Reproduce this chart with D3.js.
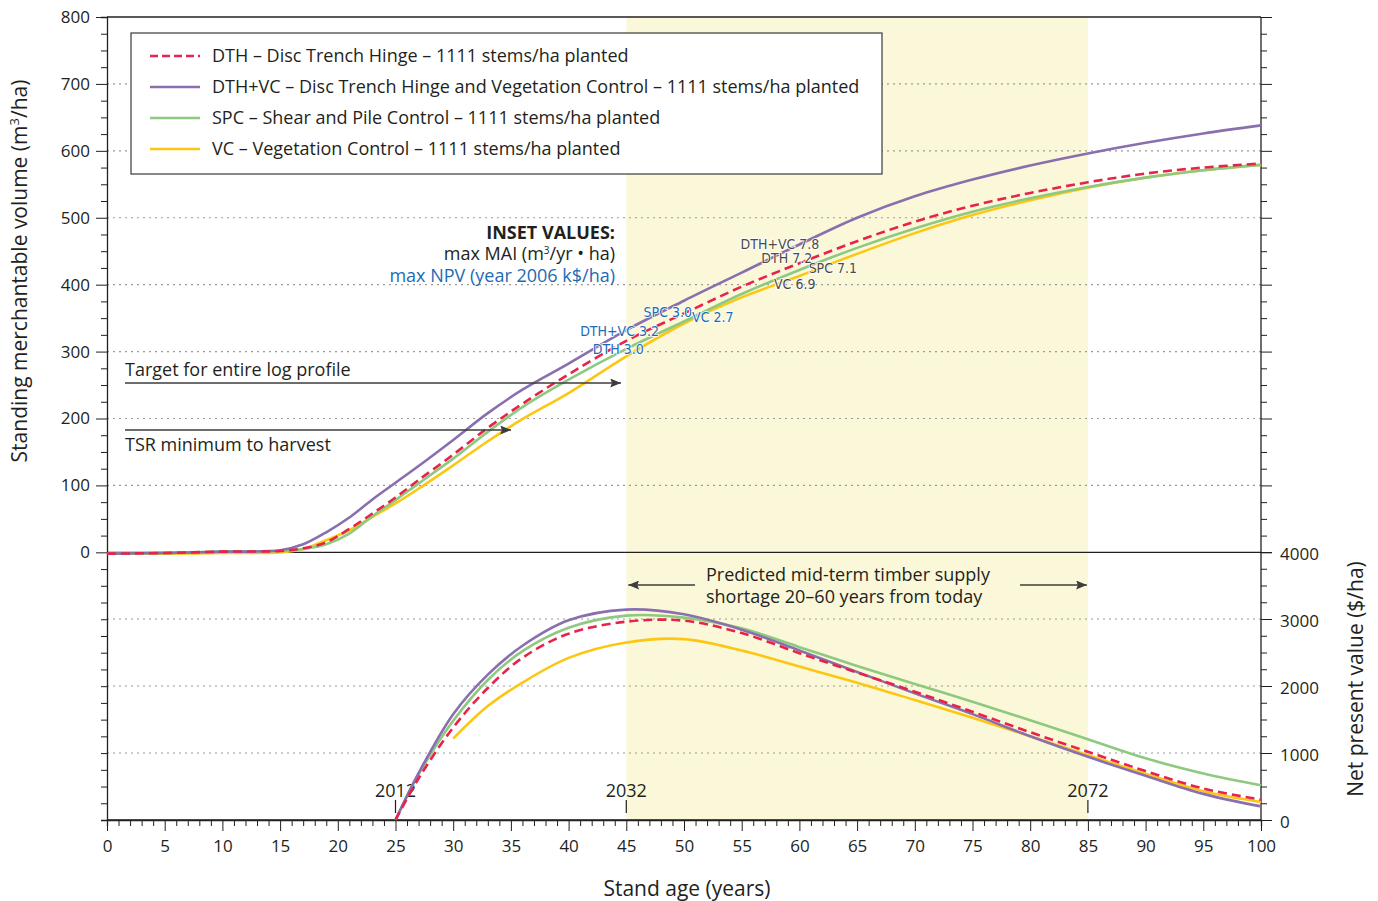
<!DOCTYPE html>
<meta charset="utf-8">
<style>
  body { margin: 0; padding: 0; background: #fff; }
  svg text { font-family: "Open Sans", "Noto Sans", sans-serif; fill: #231f20; }
  .grid { stroke: #9a9a9a; stroke-width: 1.2; stroke-dasharray: 2 4; }
  .axis path, .axis line { stroke: #231f20; }
  .inset { font-family: "Liberation Sans Narrow", "DejaVu Sans Condensed", sans-serif; font-size: 14px; }
</style>
<body>
<script src="https://cdn.jsdelivr.net/npm/d3@7"></script>
<script>

// stand age (years) for the volume curves
var volAges = [0, 5, 10, 15, 17, 19, 21, 23, 25, 27, 30, 33, 36, 40, 45, 50, 55, 60, 65, 70, 75, 80, 85, 90, 95, 100];
// standing merchantable volume (m3/ha)
var volDTH   = [-2, -1, 1, 2, 6, 15, 35, 58, 82, 108, 146, 186, 222, 266, 316, 357, 397, 432, 465, 494, 518, 537, 553, 566, 575, 581];
var volDTHVC = [-2, -1, 1, 3, 12, 30, 52, 79, 104, 129, 168, 208, 243, 282, 332, 376, 418, 460, 500, 532, 557, 578, 596, 612, 626, 638];
var volSPC   = [-2, -1, 1, 2, 5, 12, 28, 54, 78, 103, 140, 180, 217, 258, 304, 345, 386, 422, 455, 484, 509, 529, 546, 560, 571, 579];
var volVC    = [-2, -2, -1, 0, 5, 18, 33, 53, 73, 95, 130, 166, 199, 238, 293, 342, 381, 413, 446, 477, 504, 526, 545, 560, 571, 579];

// net present value ($/ha)
var npvAges  = [25, 27, 30, 33, 36, 40, 45, 50, 55, 60, 65, 70, 75, 80, 85, 90, 95, 100];
var npvDTH   = [0, 620, 1380, 1970, 2420, 2780, 2960, 2975, 2790, 2490, 2200, 1915, 1615, 1310, 1018, 730, 470, 303];
var npvDTHVC = [0, 700, 1580, 2170, 2600, 2980, 3140, 3070, 2840, 2530, 2210, 1890, 1580, 1250, 943, 660, 390, 203];
var npvSPC   = [0, 680, 1480, 2090, 2520, 2870, 3050, 3020, 2860, 2580, 2300, 2030, 1765, 1490, 1205, 920, 695, 518];
var npvVCAges = [30, 33, 36, 40, 45, 50, 55, 60, 65, 70, 75, 80, 85, 90, 95, 100];
var npvVC    = [1215, 1700, 2050, 2420, 2650, 2700, 2530, 2290, 2050, 1790, 1525, 1250, 968, 690, 430, 268];

var series = [
  {key: "DTH", label: "DTH \u2013 Disc Trench Hinge \u2013 1111 stems/ha planted", color: "#e8234a", dash: "9 5", vol: volDTH, npv: npvDTH, npvAges: npvAges},
  {key: "DTHVC", label: "DTH+VC \u2013 Disc Trench Hinge and Vegetation Control \u2013 1111 stems/ha planted", color: "#8a6fae", dash: null, vol: volDTHVC, npv: npvDTHVC, npvAges: npvAges},
  {key: "SPC", label: "SPC \u2013 Shear and Pile Control \u2013 1111 stems/ha planted", color: "#8dc97f", dash: null, vol: volSPC, npv: npvSPC, npvAges: npvAges},
  {key: "VC", label: "VC \u2013 Vegetation Control \u2013 1111 stems/ha planted", color: "#fcc712", dash: null, vol: volVC, npv: npvVC, npvAges: npvVCAges}
];
var drawOrder = [3, 2, 1, 0];

// inset labels: [text, age, volume] for max MAI (dark) and max NPV (blue)
var maiLabels = [["DTH+VC 7.8", 54.9, 454], ["DTH 7.2", 56.7, 433], ["SPC 7.1", 60.8, 418], ["VC 6.9", 57.8, 393]];
var npvLabels = [["SPC 3.0", 46.5, 351], ["VC 2.7", 50.7, 344], ["DTH+VC 3.2", 41, 324], ["DTH 3.0", 42.1, 297]];

var years = [[25, "2012"], [45, "2032"], [85, "2072"]];

var W = 1378, H = 901;
var x = d3.scaleLinear().domain([0, 100]).range([107, 1261]);
var yVol = d3.scaleLinear().domain([-400, 800]).range([820, 17]);
var yNpv = d3.scaleLinear().domain([0, 4000]).range([820, 552]);

var svg = d3.select("body").append("svg").attr("width", W).attr("height", H);

// shortage band
svg.append("rect")
  .attr("x", x(45)).attr("y", yVol(800))
  .attr("width", x(85) - x(45)).attr("height", yVol(-400) - yVol(800))
  .attr("fill", "#faf8d9");

// gridlines
svg.selectAll(".gv").data(d3.range(100, 800, 100)).enter().append("line")
  .attr("class", "grid")
  .attr("x1", x(0)).attr("x2", x(100))
  .attr("y1", d => yVol(d)).attr("y2", d => yVol(d));
svg.selectAll(".gn").data([1000, 2000, 3000]).enter().append("line")
  .attr("class", "grid")
  .attr("x1", x(0)).attr("x2", x(100))
  .attr("y1", d => yNpv(d)).attr("y2", d => yNpv(d));

// frame lines
[yVol(800), yVol(0), yVol(-400)].forEach(function(yy) {
  svg.append("line").attr("x1", x(0)).attr("x2", x(100)).attr("y1", yy).attr("y2", yy)
    .attr("stroke", "#231f20").attr("stroke-width", 1.3);
});

// left axis
var leftAxis = svg.append("g").attr("class", "axis").attr("transform", "translate(" + x(0) + ",0)")
  .call(d3.axisLeft(yVol).tickValues(d3.range(-400, 801, 25)).tickSize(6)
    .tickFormat(d => (d >= 0 && d % 100 === 0) ? d : ""));
leftAxis.select(".domain").attr("stroke-width", 1.3);
leftAxis.selectAll(".tick line").filter(d => d >= 0 && d % 100 === 0).attr("x2", -11);
leftAxis.selectAll(".tick text").attr("x", -17).style("font-size", "17px");

// right axis, upper part
var rightUp = svg.append("g").attr("class", "axis").attr("transform", "translate(" + x(100) + ",0)")
  .call(d3.axisRight(yVol).tickValues(d3.range(0, 801, 25)).tickSize(6).tickFormat(""));
rightUp.select(".domain").remove();
rightUp.selectAll(".tick line").filter(d => d % 100 === 0).attr("x2", 11);

// right axis, NPV part
var rightLow = svg.append("g").attr("class", "axis").attr("transform", "translate(" + x(100) + ",0)")
  .call(d3.axisRight(yNpv).tickValues(d3.range(0, 4001, 250)).tickSize(6)
    .tickFormat(d => d % 1000 === 0 ? d : ""));
rightLow.select(".domain").remove();
rightLow.selectAll(".tick line").filter(d => d % 1000 === 0).attr("x2", 11);
rightLow.selectAll(".tick text").attr("x", 19).attr("dy", "0.45em").style("font-size", "17px");
svg.append("line").attr("x1", x(100)).attr("x2", x(100)).attr("y1", yVol(800)).attr("y2", yVol(-400))
  .attr("stroke", "#231f20").attr("stroke-width", 1.3);

// bottom axis
var bottom = svg.append("g").attr("class", "axis").attr("transform", "translate(0," + yVol(-400) + ")")
  .call(d3.axisBottom(x).tickValues(d3.range(0, 101)).tickSize(6)
    .tickFormat(d => d % 5 === 0 ? d : ""));
bottom.select(".domain").attr("stroke-width", 1.3);
bottom.selectAll(".tick line").filter(d => d % 5 === 0).attr("y2", 11);
bottom.selectAll(".tick text").attr("y", 20).style("font-size", "17px");

// year markers
years.forEach(function(d) {
  svg.append("line").attr("x1", x(d[0])).attr("x2", x(d[0])).attr("y1", 800).attr("y2", 813)
    .attr("stroke", "#231f20").attr("stroke-width", 1.2);
  svg.append("text").attr("x", x(d[0])).attr("y", 797).attr("text-anchor", "middle")
    .style("font-size", "18px").text(d[1]);
});

// curves
var volLine = d3.line().curve(d3.curveCatmullRom.alpha(0.5))
  .x((d, i) => x(volAges[i])).y(d => yVol(d));

drawOrder.forEach(function(i) {
  var s = series[i];
  svg.append("path").attr("d", volLine(s.vol))
    .attr("fill", "none").attr("stroke", s.color).attr("stroke-width", 2.6)
    .attr("stroke-dasharray", s.dash);
  var npvLine = d3.line().curve(d3.curveCatmullRom.alpha(0.5))
    .x((d, j) => x(s.npvAges[j])).y(d => yNpv(d));
  svg.append("path").attr("d", npvLine(s.npv))
    .attr("fill", "none").attr("stroke", s.color).attr("stroke-width", 2.6)
    .attr("stroke-dasharray", s.dash);
});

// arrow marker
svg.append("defs").append("marker")
  .attr("id", "arr").attr("viewBox", "0 0 12 10").attr("refX", 12).attr("refY", 5)
  .attr("markerWidth", 13).attr("markerHeight", 9).attr("markerUnits", "userSpaceOnUse")
  .attr("orient", "auto-start-reverse")
  .append("path").attr("d", "M0,0L12,5L0,10L2,5z").attr("fill", "#3d3d3d");

function arrow(x1, y1, x2, y2) {
  svg.append("line").attr("x1", x1).attr("y1", y1).attr("x2", x2).attr("y2", y2)
    .attr("stroke", "#3d3d3d").attr("stroke-width", 1.3).attr("marker-end", "url(#arr)");
}

// harvest thresholds
svg.append("text").attr("x", 125).attr("y", 376).style("font-size", "18px").text("Target for entire log profile");
arrow(125, 383, 621, 383);
svg.append("text").attr("x", 125).attr("y", 451).style("font-size", "18px").text("TSR minimum to harvest");
arrow(125, 430, 511, 430);

// shortage annotation
svg.append("text").attr("x", 706).attr("y", 581).style("font-size", "18px").text("Predicted mid-term timber supply");
svg.append("text").attr("x", 706).attr("y", 603).style("font-size", "18px").text("shortage 20\u201360 years from today");
arrow(695, 585, x(45) + 2, 585);
arrow(1020, 585, x(85) - 1, 585);

// inset headings
var ins = svg.append("g").attr("text-anchor", "end");
ins.append("text").attr("x", 615).attr("y", 239).style("font-size", "18px").style("font-weight", "bold").text("INSET VALUES:");
ins.append("text").attr("x", 615).attr("y", 260).style("font-size", "18px")
  .html("max MAI (m<tspan dy='-6' font-size='10'>3</tspan><tspan dy='6'>/yr \u2022 ha)</tspan>");
ins.append("text").attr("x", 615).attr("y", 282).style("font-size", "18px").style("fill", "#1c6bb4")
  .text("max NPV (year 2006 k$/ha)");

svg.selectAll(".mai").data(maiLabels).enter().append("text").attr("class", "inset")
  .attr("x", d => x(d[1])).attr("y", d => yVol(d[2]))
  .attr("stroke", "#fff").attr("stroke-width", 1.5).attr("paint-order", "stroke")
  .style("fill", "#4a4a4a").text(d => d[0]);
svg.selectAll(".npvl").data(npvLabels).enter().append("text").attr("class", "inset")
  .attr("x", d => x(d[1])).attr("y", d => yVol(d[2]))
  .attr("stroke", "#fff").attr("stroke-width", 1.5).attr("paint-order", "stroke")
  .style("fill", "#1c6bb4").text(d => d[0]);

// legend
var leg = svg.append("g");
leg.append("rect").attr("x", 131).attr("y", 33).attr("width", 751).attr("height", 141)
  .attr("fill", "#fff").attr("stroke", "#3a3a3a").attr("stroke-width", 1.2);
series.forEach(function(s, i) {
  var yy = 56 + i * 31;
  leg.append("line").attr("x1", 150).attr("x2", 200).attr("y1", yy).attr("y2", yy)
    .attr("stroke", s.color).attr("stroke-width", 2.6).attr("stroke-dasharray", s.dash ? "8 4" : null);
  leg.append("text").attr("x", 212).attr("y", yy + 6).style("font-size", "18px").text(s.label);
});

// axis titles
svg.append("text").attr("transform", "translate(27,271) rotate(-90)").attr("text-anchor", "middle")
  .style("font-size", "21px").html("Standing merchantable volume (m<tspan dy='-8' font-size='13'>3</tspan><tspan dy='8'>/ha)</tspan>");
svg.append("text").attr("transform", "translate(1363,679) rotate(-90)").attr("text-anchor", "middle")
  .style("font-size", "21px").text("Net present value ($/ha)");
svg.append("text").attr("x", 687).attr("y", 896).attr("text-anchor", "middle")
  .style("font-size", "21px").text("Stand age (years)");

</script>
</body>
